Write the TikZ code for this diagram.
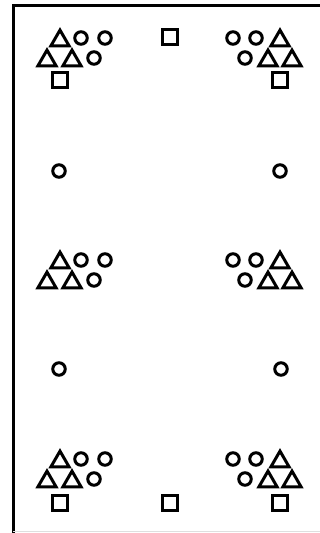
\documentclass[tikz,border=0pt]{standalone}
\usetikzlibrary{shapes.geometric}
\tikzstyle{every picture}=[line width=3pt]

\begin{document}
\begin{tikzpicture}[x=1pt,y=-1pt,
    tri/.style={draw,regular polygon,regular polygon sides=3,minimum size=21pt,inner sep=0pt,yshift=-2.6pt},
    ring/.style={draw,circle,minimum size=12.5pt,inner sep=0pt},
    box/.style={draw,rectangle,minimum size=14.5pt,inner sep=0pt}]
    \useasboundingbox (0,0) rectangle (320,533);
    % frame
    \draw (13,533) -- (13,5) -- (320,5);
    \draw[gray!25,line width=0.8pt] (13,531) -- (320,531);
    % clusters
    \foreach \gy/\g in {38/t,260/m,459/b} {
      \node[tri] (\g-l1) at (60,\gy) {};
      \node[ring] (\g-l2) at (81,\gy) {};
      \node[ring] (\g-l3) at (105,\gy) {};
      \node[tri] (\g-l4) at (47,\gy+20) {};
      \node[tri] (\g-l5) at (72,\gy+20) {};
      \node[ring] (\g-l6) at (94,\gy+20) {};
      \node[ring] (\g-r1) at (233,\gy) {};
      \node[ring] (\g-r2) at (256,\gy) {};
      \node[tri] (\g-r3) at (280,\gy) {};
      \node[ring] (\g-r4) at (245,\gy+20) {};
      \node[tri] (\g-r5) at (268,\gy+20) {};
      \node[tri] (\g-r6) at (292,\gy+20) {};
    }
    \node[box] (t-lbox) at (60,80) {};
    \node[box] (t-rbox) at (280,80) {};
    \node[box] (t-cbox) at (170,37) {};
    \node[box] (b-lbox) at (60,503) {};
    \node[box] (b-rbox) at (280,503) {};
    \node[box] (b-cbox) at (170,503) {};
    % lone circles
    \node[ring] (u-l) at (59,171) {};
    \node[ring] (u-r) at (280,171) {};
    \node[ring] (d-l) at (59,369) {};
    \node[ring] (d-r) at (281,369) {};
\end{tikzpicture}
\end{document}
